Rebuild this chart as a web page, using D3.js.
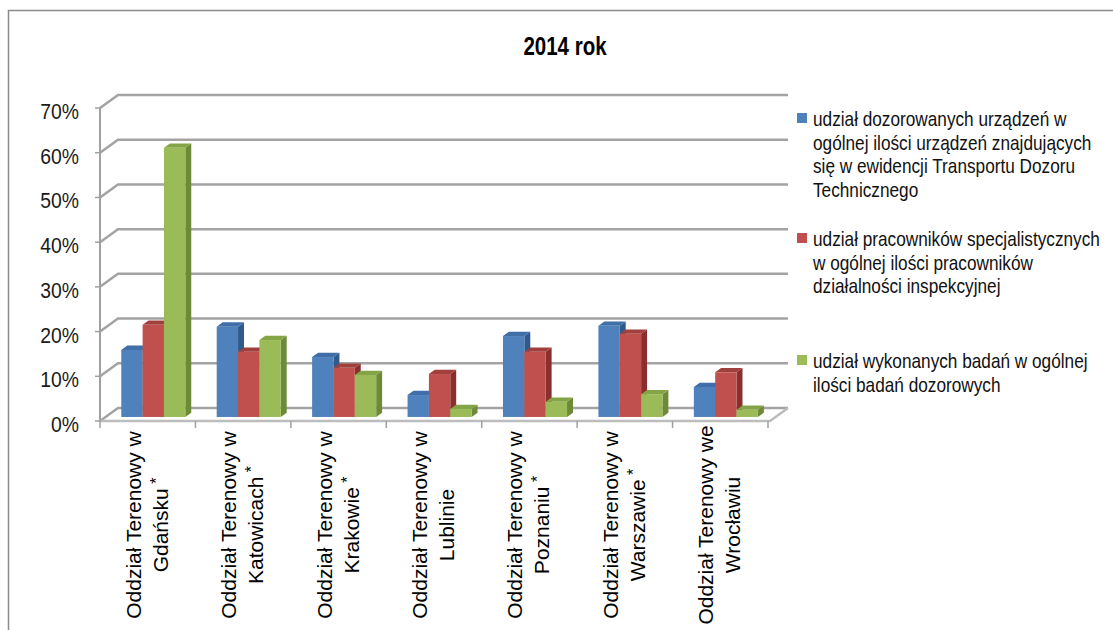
<!DOCTYPE html>
<head>
  <meta charset="UTF-8">
  <script src="https://d3js.org/d3.v7.min.js"></script>
  <title>2014 rok</title>
  <style>
    body { margin: 0; background: #fff; }
    text { font-family: 'Liberation Sans', Arial, sans-serif; }
  </style>
</head>
<body>
  <svg id="chart"></svg>
  <script>

    var categories = [
      ["Oddział Terenowy w", "Gdańsku", true],
      ["Oddział Terenowy w", "Katowicach", true],
      ["Oddział Terenowy w", "Krakowie", true],
      ["Oddział Terenowy w", "Lublinie", false],
      ["Oddział Terenowy w", "Poznaniu", true],
      ["Oddział Terenowy w", "Warszawie", true],
      ["Oddział Terenowy we", "Wrocławiu", false]
    ];
    var seriesNames = ["dozor", "pracownicy", "badania"];
    var dozor      = [0.150, 0.202, 0.134, 0.049, 0.181, 0.204, 0.067];
    var pracownicy = [0.206, 0.146, 0.110, 0.096, 0.146, 0.186, 0.100];
    var badania    = [0.602, 0.172, 0.094, 0.018, 0.034, 0.051, 0.016];
    var yTicks = [0, 0.1, 0.2, 0.3, 0.4, 0.5, 0.6, 0.7];
    var legendLabels = [
      ["udział dozorowanych urządzeń w", "ogólnej ilości urządzeń znajdujących", "się w ewidencji Transportu Dozoru", "Technicznego"],
      ["udział pracowników specjalistycznych", "w ogólnej ilości pracowników", "działalności inspekcyjnej"],
      ["udział wykonanych badań w ogólnej", "ilości badań dozorowych"]
    ];
    var title = "2014 rok";

    var values = [dozor, pracownicy, badania];
    var colors = [
      {front: "#4f81bd", top: "#3f6ea8", side: "#2f5a8c"},
      {front: "#c0504d", top: "#a13f3c", side: "#8a2f2d"},
      {front: "#9bbb59", top: "#84a546", side: "#6c8a37"}
    ];

    // no narrow font installed, so squeeze the regular one
    var narrow = 0.82;

    var width = 1113, height = 630;
    var svg = d3.select("#chart").attr("width", width).attr("height", height);

    // outer chart frame
    svg.append("rect")
      .attr("x", 8.5).attr("y", 10.5)
      .attr("width", 1110).attr("height", 640)
      .attr("fill", "none").attr("stroke", "#8c8c8c").attr("stroke-width", 1.5);

    svg.append("g")
      .attr("transform", "translate(565,55) scale(" + narrow + ",1)")
      .append("text")
      .attr("text-anchor", "middle")
      .attr("font-size", 25).attr("font-weight", "bold")
      .text(title);

    var x0 = d3.scaleBand().domain(d3.range(categories.length)).range([100, 768]);
    var x1 = d3.scaleBand().domain(seriesNames).range([0, x0.bandwidth()]).paddingOuter(0.735);
    var y = d3.scaleLinear().domain([0, 0.7]).range([421, 108]);

    // depth of the 3d box
    var dx = 18, dy = -13;
    var fFront = 0.31, fBack = 0.64;

    var grid = svg.append("g");
    // left wall + back wall gridlines
    yTicks.forEach(function(t) {
      grid.append("path")
        .attr("d", "M100," + y(t) + "L" + (100 + dx) + "," + (y(t) + dy) + "L" + (x0.range()[1] + dx + 2) + "," + (y(t) + dy))
        .attr("fill", "none").attr("stroke", "#a3a3a3").attr("stroke-width", 2.5);
    });
    // floor
    grid.append("path")
      .attr("d", "M100," + y(0) + "L" + (x0.range()[1] + 2) + "," + y(0) + "L" + (x0.range()[1] + dx + 2) + "," + (y(0) + dy))
      .attr("fill", "none").attr("stroke", "#bdbdbd").attr("stroke-width", 2.5);

    // y axis
    svg.append("line")
      .attr("x1", 100).attr("x2", 100).attr("y1", y(0.7)).attr("y2", y(0))
      .attr("stroke", "#a0a0a0").attr("stroke-width", 2);
    svg.selectAll(".ytick").data(yTicks).enter().append("line")
      .attr("x1", 95).attr("x2", 100)
      .attr("y1", function(d) { return y(d); }).attr("y2", function(d) { return y(d); })
      .attr("stroke", "#a0a0a0").attr("stroke-width", 1.5);
    svg.selectAll(".ylabel").data(yTicks).enter().append("g")
      .attr("transform", function(d) { return "translate(79," + (y(d) + 3) + ") scale(0.88,1)"; })
      .append("text")
      .attr("text-anchor", "end").attr("dominant-baseline", "central")
      .attr("font-size", 22).attr("fill", "#1a1a1a")
      .text(function(d) { return Math.round(d * 100) + "%"; });

    // x axis ticks
    var bounds = x0.domain().map(function(i) { return x0(i); }).concat([x0.range()[1]]);
    svg.selectAll(".xtick").data(bounds).enter().append("line")
      .attr("x1", function(d) { return d; }).attr("x2", function(d) { return d; })
      .attr("y1", y(0)).attr("y2", y(0) + 7)
      .attr("stroke", "#a0a0a0").attr("stroke-width", 1.5);

    // bars
    var bars = svg.append("g");
    categories.forEach(function(c, i) {
      seriesNames.forEach(function(s, k) {
        var v = values[k][i];
        var xl = x0(i) + x1(s) + dx * fFront;
        var xr = xl + x1.bandwidth();
        var yt = y(v) + dy * fFront;
        var yb = y(0) + dy * fFront;
        var ox = dx * (fBack - fFront), oy = dy * (fBack - fFront);
        var col = colors[k];
        bars.append("path")
          .attr("d", "M" + xr + "," + yb + "L" + (xr + ox) + "," + (yb + oy) + "L" + (xr + ox) + "," + (yt + oy) + "L" + xr + "," + yt + "Z")
          .attr("fill", col.side);
        bars.append("path")
          .attr("d", "M" + xl + "," + yt + "L" + xr + "," + yt + "L" + (xr + ox) + "," + (yt + oy) + "L" + (xl + ox) + "," + (yt + oy) + "Z")
          .attr("fill", col.top);
        bars.append("rect")
          .attr("x", xl).attr("y", yt)
          .attr("width", x1.bandwidth()).attr("height", yb - yt)
          .attr("fill", col.front);
      });
    });

    // category labels, rotated
    var lab = svg.selectAll(".cat").data(categories).enter().append("text")
      .attr("font-size", 21).attr("fill", "#000")
      .attr("text-anchor", "middle")
      .attr("transform", function(d, i) {
        return "translate(" + (x0(i) + x0.bandwidth() / 2) + ",525) rotate(-90)";
      });
    lab.append("tspan").attr("x", 0).attr("y", -7).text(function(d) { return d[0]; });
    lab.append("tspan").attr("x", 0).attr("y", 20).text(function(d) { return d[1]; });
    lab.each(function(d) {
      if (d[2]) {
        d3.select(this).select("tspan:last-child")
          .append("tspan").attr("font-size", 16).attr("dy", -6).text(" *");
      }
    });

    // legend
    var legendY = [113, 233, 355];
    var legend = svg.append("g");
    legendLabels.forEach(function(lines, k) {
      legend.append("rect")
        .attr("x", 797).attr("y", legendY[k])
        .attr("width", 10).attr("height", 10)
        .attr("fill", colors[k].front);
      var t = legend.append("g")
        .attr("transform", "translate(813," + (legendY[k] + 13) + ") scale(" + narrow + ",1)")
        .append("text")
        .attr("font-size", 21).attr("fill", "#111");
      lines.forEach(function(line, j) {
        t.append("tspan").attr("x", 0).attr("y", j * 23.7).text(line);
      });
    });

  </script>
</body>
</html>
